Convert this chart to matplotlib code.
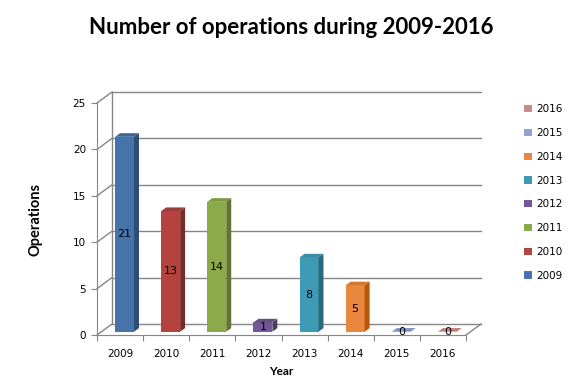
import numpy as np
import matplotlib.pyplot as plt
from matplotlib.patches import Polygon, Patch

# data
years = ["2009", "2010", "2011", "2012", "2013", "2014", "2015", "2016"]
operations = [21, 13, 14, 1, 8, 5, 0, 0]
yticks = [0, 5, 10, 15, 20, 25]

# excel 2007 palette: front / side / top
front = ["#4673AA", "#B6423F", "#8DAA4B", "#72579A", "#3F9BB5", "#E8873D", "#8AA6CF", "#CC8A88"]
side = ["#2C4D75", "#772C2A", "#5F7530", "#4D3B62", "#276A7C", "#B65708", "#5E7DA8", "#A06462"]
top = ["#3D6596", "#983D3A", "#7D9844", "#65507F", "#3A8CA3", "#D67730", "#7C96BB", "#C27F7D"]

W, H = 576, 384
fig = plt.figure(figsize=(W / 100, H / 100), dpi=100)

# front plane of the "3d" box, in pixels
x0, x1, y0, y1 = 97, 466, 335, 103
ax = fig.add_axes([x0 / W, 1 - y0 / H, (x1 - x0) / W, (y0 - y1) / H])
ax.set_xlim(0, len(years))
ax.set_ylim(0, 25)

# depth offset of the back wall, converted to data units
DX = 15 / (x1 - x0) * len(years)
DY = 11 / (y0 - y1) * 25
grid = "#868686"
n = len(years)

# back wall, side diagonals, floor
for v in yticks:
    ax.plot([DX, n + DX], [v + DY, v + DY], color=grid, lw=1, clip_on=False, zorder=1)
    ax.plot([0, DX], [v, v + DY], color=grid, lw=1, clip_on=False, zorder=1)
ax.plot([DX, DX], [DY, 25 + DY], color=grid, lw=1, clip_on=False, zorder=1)
ax.plot([n, n + DX], [0, DY], color=grid, lw=1, clip_on=False, zorder=1)

# bars
w = 0.41
f0, f1 = 0.3, 0.63
for i, v in enumerate(operations):
    c = i + 0.5 + f0 * DX
    b0 = f0 * DY
    ox, oy = (f1 - f0) * DX, (f1 - f0) * DY
    if v > 0:
        ax.bar(c, v, width=w, bottom=b0, color=front[i], zorder=3)
        ax.add_patch(Polygon([(c + w / 2, b0), (c + w / 2 + ox, b0 + oy),
                              (c + w / 2 + ox, b0 + oy + v), (c + w / 2, b0 + v)],
                             closed=True, fc=side[i], ec="none", zorder=3, clip_on=False))
    ax.add_patch(Polygon([(c - w / 2, b0 + v), (c + w / 2, b0 + v),
                          (c + w / 2 + ox, b0 + v + oy), (c - w / 2 + ox, b0 + v + oy)],
                         closed=True, fc=top[i], ec="none", zorder=3, clip_on=False))
    ax.text(c, b0 + v / 2, str(v), ha="center", va="center", fontsize=8,
            color="black", zorder=5)

# axes styling
for s in ["top", "right"]:
    ax.spines[s].set_visible(False)
for s in ["left", "bottom"]:
    ax.spines[s].set_color(grid)
ax.set_yticks(yticks)
ax.set_xticks(np.arange(n + 1))
ax.set_xticklabels([])
ax.set_xticks(np.arange(n) + 0.5, minor=True)
ax.set_xticklabels(years, minor=True)
ax.tick_params(axis="x", which="major", length=4, color=grid)
ax.tick_params(axis="x", which="minor", length=0, pad=10, labelsize=7.5)
ax.tick_params(axis="y", length=4, color=grid, labelsize=7.5, pad=4)
ax.patch.set_visible(False)

ax.set_ylabel("Operations", fontsize=10.5, fontweight="bold", family="Lato", labelpad=22)
ax.set_xlabel("Year", fontsize=8.5, fontweight="bold", family="Lato", labelpad=5)

fig.text(0.505, 1 - 27 / H, "Number of operations during 2009-2016", ha="center",
         va="center", fontsize=16, fontweight="bold", family="Lato")

handles = [Patch(fc=front[i], ec="none", label=years[i]) for i in range(n)][::-1]
fig.legend(handles=handles, loc="upper left", bbox_to_anchor=(515 / W, 1 - 95 / H),
           frameon=False, fontsize=7.5, labelspacing=1.32, handlelength=0.7,
           handleheight=0.7, handletextpad=0.4)

fig.savefig("out.png", dpi=100)
